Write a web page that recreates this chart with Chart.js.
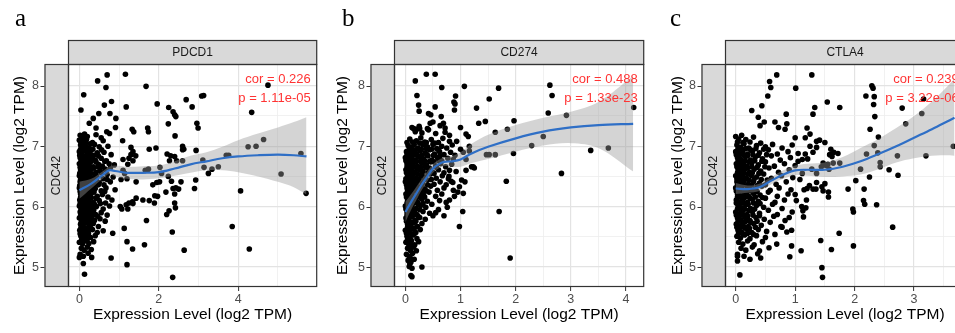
<!DOCTYPE html>
<html>
<head>
<meta charset="utf-8">
<script src="https://cdn.jsdelivr.net/npm/chart.js@4.4.1/dist/chart.umd.min.js"></script>
<style>
  html, body { margin: 0; padding: 0; background: #fff; width: 955px; height: 333px; overflow: hidden; position: relative; }
  canvas { position: absolute; top: 0; }
</style>
</head>
<body>
<canvas id="pdcd1Chart" width="320" height="333" style="left:0px"></canvas>
<canvas id="cd274Chart" width="321" height="333" style="left:326px"></canvas>
<canvas id="ctla4Chart" width="311" height="333" style="left:657px"></canvas>
<script>
// ================================
// DATA
// ================================

const rowGene = 'CDC42';
const panelGenes = ['PDCD1', 'CD274', 'CTLA4'];
const panelLetters = ['a', 'b', 'c'];
const corTexts = ['cor = 0.226', 'cor = 0.488', 'cor = 0.239'];
const pTexts = ['p = 1.11e-05', 'p = 1.33e-23', 'p = 3.22e-06'];
const axisTitle = 'Expression Level (log2 TPM)';

// PDCD1 vs CDC42
const pdcd1Points = [
  [0.70,8.18],[1.16,8.19],[0.46,8.08],[0.67,7.97],[1.68,7.99],[0.11,7.85],[0.63,7.68],[0.81,7.74],[1.18,7.65],[0.04,7.60],
  [0.49,7.54],[0.77,7.54],[1.96,7.70],[2.25,7.64],[2.36,7.57],[2.40,7.52],[2.43,7.49],[2.69,7.77],[2.84,7.65],[3.08,7.83],
  [3.13,7.84],[4.75,8.01],[4.34,7.56],[2.96,7.38],[2.99,7.30],[2.24,7.37],[0.35,7.46],[0.25,7.38],[0.92,7.46],[0.91,7.31],
  [0.42,7.30],[0.69,7.24],[0.76,7.21],[1.33,7.28],[1.37,7.24],[1.72,7.30],[1.74,7.24],[2.41,7.17],[1.09,7.09],[1.30,6.98],
  [1.35,6.91],[1.76,6.95],[2.60,7.00],[2.63,6.95],[2.94,6.93],[1.93,6.97],[2.21,6.87],[2.30,6.84],[2.40,6.83],[2.60,6.94],
  [2.27,6.76],[2.45,6.76],[2.60,6.76],[2.03,6.65],[2.07,6.55],[2.24,6.50],[1.95,6.40],[2.18,6.24],[2.32,6.42],[2.56,6.41],
  [2.36,6.30],[2.43,6.31],[2.50,6.29],[2.40,6.21],[2.40,6.06],[2.42,5.98],[2.20,5.87],[2.26,5.93],[2.34,5.58],[2.64,5.28],
  [2.35,4.83],[2.90,6.30],[2.93,6.44],[3.11,6.77],[3.14,6.65],[3.25,6.55],[3.34,6.62],[3.50,6.66],[3.70,6.85],[3.76,6.85],
  [3.85,5.67],[4.06,6.26],[4.25,6.99],[4.45,7.00],[4.64,7.11],[5.08,6.54],[5.58,6.88],[5.71,6.22],[4.28,5.30],[1.89,6.06],
  [1.97,6.17],[1.10,6.78],[1.25,6.80],[1.35,6.76],[1.10,6.60],[1.14,6.55],[1.22,6.70],[1.66,6.60],[1.74,6.62],[1.05,6.45],
  [1.20,6.46],[1.43,6.14],[1.60,6.11],[1.76,6.10],[1.90,6.18],[1.35,6.05],[1.25,6.06],[1.07,5.96],[1.22,5.96],[1.69,5.77],
  [1.20,5.42],[1.34,5.30],[1.64,5.37],[1.20,5.04],[1.13,5.64],[0.84,5.56],[0.80,5.15],[0.13,4.88],[0.10,5.06],[0.00,5.16],
  [0.31,5.16],[2.02,6.41],[1.85,6.36],[1.43,6.41],[1.30,6.86],[1.42,6.84],[1.03,6.00],[1.18,6.03],[1.34,6.08],
  [0.02,7.18],[0.08,7.15],[0.13,7.20],[0.20,7.16],[0.42,7.19],[0.55,7.14],
  [0.00,7.10],[0.10,7.08],[0.18,7.11],[0.33,7.06],[0.60,7.09],
  [0.03,7.02],[0.07,6.98],[0.15,7.01],[0.25,6.97],[0.38,7.03],[0.50,6.99],[0.72,7.00],
  [0.00,6.91],[0.05,6.88],[0.12,6.93],[0.20,6.87],[0.28,6.92],[0.45,6.89],[0.62,6.90],[0.80,6.86],
  [0.02,6.81],[0.09,6.78],[0.14,6.83],[0.22,6.79],[0.31,6.82],[0.40,6.77],[0.55,6.80],[0.68,6.76],
  [0.00,6.71],[0.06,6.68],[0.11,6.73],[0.17,6.69],[0.26,6.72],[0.35,6.66],[0.48,6.70],[0.58,6.67],[0.75,6.71],[0.88,6.69],
  [0.03,6.61],[0.08,6.58],[0.13,6.63],[0.20,6.59],[0.30,6.62],[0.42,6.57],[0.52,6.60],[0.65,6.62],
  [0.00,6.51],[0.05,6.48],[0.10,6.53],[0.16,6.49],[0.24,6.52],[0.33,6.47],[0.44,6.50],[0.60,6.46],[0.70,6.53],[0.85,6.49],
  [0.02,6.41],[0.07,6.38],[0.12,6.43],[0.19,6.39],[0.27,6.42],[0.37,6.37],[0.50,6.40],[0.62,6.36],[0.78,6.41],
  [0.00,6.31],[0.04,6.28],[0.09,6.33],[0.15,6.29],[0.21,6.32],[0.29,6.27],[0.40,6.30],[0.55,6.26],[0.67,6.31],[0.90,6.28],
  [0.03,6.21],[0.08,6.18],[0.14,6.23],[0.20,6.19],[0.30,6.22],[0.45,6.17],[0.58,6.20],[0.72,6.16],
  [0.01,6.11],[0.06,6.08],[0.11,6.13],[0.18,6.09],[0.25,6.12],[0.35,6.07],[0.50,6.10],[0.66,6.06],[0.82,6.11],
  [0.00,6.01],[0.05,5.98],[0.10,6.03],[0.16,5.99],[0.23,6.02],[0.32,5.97],[0.43,6.00],[0.60,5.96],[0.76,6.01],
  [0.02,5.91],[0.08,5.88],[0.13,5.93],[0.21,5.89],[0.30,5.92],[0.41,5.87],[0.55,5.90],[0.70,5.86],
  [0.00,5.81],[0.06,5.78],[0.12,5.83],[0.19,5.79],[0.28,5.82],[0.38,5.77],[0.52,5.80],[0.65,5.76],
  [0.03,5.71],[0.09,5.68],[0.16,5.73],[0.25,5.69],[0.35,5.72],[0.48,5.67],
  [0.01,5.61],[0.07,5.58],[0.14,5.63],[0.22,5.59],[0.33,5.62],[0.45,5.57],[0.60,5.60],
  [0.04,5.51],[0.10,5.48],[0.18,5.53],[0.28,5.49],[0.40,5.52],
  [0.00,5.41],[0.08,5.38],[0.15,5.43],[0.24,5.39],[0.36,5.42],
  [0.05,5.31],[0.12,5.28],[0.20,5.33],[0.30,5.29],
  [0.02,5.21],[0.10,5.18],[0.22,5.23]
];
// the solid black mass near zero
const pdcd1Core = [
  [0.05,7.05],[0.16,7.06],[0.27,7.04],
  [0.03,6.95],[0.10,6.96],[0.18,6.94],[0.34,6.95],[0.56,6.94],
  [0.01,6.85],[0.07,6.86],[0.17,6.84],[0.26,6.86],[0.36,6.85],[0.48,6.84],
  [0.04,6.75],[0.09,6.76],[0.14,6.74],[0.21,6.76],[0.30,6.75],[0.42,6.74],[0.64,6.75],
  [0.02,6.65],[0.05,6.66],[0.11,6.64],[0.16,6.66],[0.24,6.65],[0.36,6.64],[0.47,6.66],[0.78,6.64],
  [0.01,6.55],[0.07,6.56],[0.12,6.54],[0.19,6.56],[0.28,6.55],[0.38,6.54],[0.55,6.56],
  [0.03,6.45],[0.09,6.46],[0.14,6.44],[0.22,6.46],[0.31,6.45],[0.43,6.44],[0.70,6.45],
  [0.01,6.35],[0.06,6.36],[0.12,6.34],[0.18,6.36],[0.25,6.35],[0.34,6.34],[0.48,6.36],
  [0.02,6.25],[0.06,6.26],[0.11,6.24],[0.17,6.26],[0.25,6.25],[0.37,6.24],[0.64,6.25],
  [0.03,6.15],[0.09,6.16],[0.15,6.14],[0.22,6.16],[0.30,6.15],[0.42,6.14],
  [0.02,6.05],[0.08,6.06],[0.13,6.04],[0.20,6.06],[0.28,6.05],[0.38,6.04],[0.53,6.05],
  [0.04,5.95],[0.11,5.96],[0.17,5.94],[0.26,5.95],[0.36,5.94],
  [0.03,5.85],[0.09,5.86],[0.15,5.84],[0.23,5.86],[0.33,5.85],[0.46,5.84],
  [0.05,5.75],[0.12,5.76],[0.20,5.74],[0.30,5.75],
  [0.04,5.65],[0.10,5.66],[0.18,5.64],[0.28,5.65],
  [0.02,5.55],[0.13,5.56],[0.23,5.55],
  [0.06,5.45],[0.20,5.46]
];
const pdcd1FitX = [0, 0.3, 0.6, 0.75, 0.9, 1.2, 1.6, 2.0, 2.4, 2.8, 3.2, 3.6, 4.0, 4.5, 5.0, 5.4, 5.72];
const pdcd1Fit  = [6.27, 6.38, 6.53, 6.60, 6.59, 6.56, 6.56, 6.57, 6.63, 6.70, 6.75, 6.80, 6.83, 6.85, 6.86, 6.85, 6.83];
const pdcd1Lo   = [6.13, 6.30, 6.47, 6.54, 6.50, 6.46, 6.45, 6.47, 6.51, 6.56, 6.60, 6.60, 6.57, 6.50, 6.41, 6.32, 6.20];
const pdcd1Hi   = [6.41, 6.46, 6.59, 6.66, 6.68, 6.66, 6.67, 6.68, 6.75, 6.84, 6.90, 6.99, 7.10, 7.21, 7.31, 7.40, 7.48];

// CD274 vs CDC42
const cd274Points = [
  [0.38,8.19],[0.54,8.19],[0.18,8.08],[0.66,7.97],[1.07,7.99],[1.69,7.96],[0.21,7.84],[0.91,7.83],[0.88,7.73],[0.90,7.70],
  [1.52,7.78],[2.62,8.01],[2.66,7.84],[4.14,7.64],[0.24,7.68],[0.25,7.58],[0.54,7.65],[0.42,7.54],[0.46,7.52],[1.29,7.63],
  [0.65,7.49],[0.69,7.38],[0.72,7.30],[1.33,7.38],[1.45,7.41],[1.97,7.42],[2.59,7.55],[2.92,7.51],[1.00,7.31],[1.14,7.16],
  [1.63,7.23],[1.85,7.28],[2.50,7.16],[2.29,7.01],[1.16,7.00],[1.52,6.86],[1.63,6.86],[1.96,6.88],[3.36,6.93],[3.68,6.97],
  [2.83,6.55],[1.83,6.42],[1.70,5.92],[1.04,5.92],[0.98,5.67],[1.90,5.15],[0.30,5.00],[1.10,6.78],[1.23,6.66],[1.10,6.60],
  [1.20,6.66],[1.25,6.64],[1.05,6.22],[1.08,6.41],[1.02,6.44],[0.95,6.24],[0.87,6.27],[0.83,6.42],[0.79,6.50],[0.76,5.99],
  [0.70,5.85],[0.50,5.85],[0.55,5.90],[0.60,5.95],[0.10,4.86],[0.12,4.84],[0.08,5.05],[0.09,5.15],[1.05,6.90],[1.16,6.92],
  [1.47,6.86],[1.10,7.20],[0.50,7.40],[0.45,7.38],[0.15,7.29],[0.20,7.28],[0.26,7.29],[0.40,7.29],[0.89,7.60],[0.80,7.18],
  [0.93,7.08],[1.00,6.95],[0.98,6.33],[0.89,6.17],[0.80,6.11],
  [0.12,7.31],[0.18,7.24],[0.25,7.33],[0.30,7.22],[0.42,7.27],[0.55,7.21],[0.63,7.34],[0.72,7.23],
  [0.08,7.12],[0.20,7.09],[0.28,7.14],[0.35,7.07],[0.47,7.11],[0.60,7.06],[0.68,7.13],[0.80,7.08],
  [0.05,7.01],[0.10,6.98],[0.16,7.03],[0.23,6.97],[0.32,7.02],[0.40,6.99],[0.50,7.03],[0.57,6.96],[0.66,7.00],[0.75,6.97],[0.85,7.02],
  [0.02,6.91],[0.09,6.88],[0.14,6.93],[0.20,6.87],[0.27,6.92],[0.36,6.89],[0.44,6.94],[0.53,6.87],[0.62,6.91],[0.70,6.86],[0.82,6.90],[0.90,6.85],
  [0.00,6.81],[0.06,6.78],[0.12,6.83],[0.18,6.77],[0.25,6.82],[0.33,6.79],[0.41,6.84],[0.48,6.77],[0.58,6.81],[0.66,6.76],[0.77,6.80],[0.87,6.78],
  [0.03,6.71],[0.08,6.68],[0.15,6.73],[0.22,6.67],[0.30,6.72],[0.38,6.69],[0.46,6.74],[0.55,6.67],[0.64,6.71],[0.73,6.66],[0.84,6.70],
  [0.01,6.61],[0.06,6.58],[0.11,6.63],[0.17,6.57],[0.24,6.62],[0.32,6.59],[0.40,6.64],[0.50,6.57],[0.60,6.61],[0.70,6.56],[0.80,6.60],[0.92,6.58],
  [0.04,6.51],[0.09,6.48],[0.14,6.53],[0.20,6.47],[0.28,6.52],[0.36,6.49],[0.45,6.54],[0.56,6.47],[0.67,6.51],[0.78,6.46],
  [0.00,6.41],[0.05,6.38],[0.10,6.43],[0.16,6.37],[0.23,6.42],[0.31,6.39],[0.40,6.44],[0.52,6.37],[0.63,6.41],[0.74,6.36],[0.86,6.40],
  [0.03,6.31],[0.08,6.28],[0.13,6.33],[0.19,6.27],[0.27,6.32],[0.35,6.29],[0.46,6.34],[0.58,6.27],[0.70,6.31],
  [0.01,6.21],[0.06,6.18],[0.11,6.23],[0.17,6.17],[0.24,6.22],[0.33,6.19],[0.43,6.24],[0.55,6.17],[0.66,6.21],
  [0.04,6.11],[0.09,6.08],[0.15,6.13],[0.22,6.07],[0.30,6.12],[0.40,6.09],[0.62,6.10],[0.74,6.07],
  [0.00,6.01],[0.06,5.98],[0.12,6.03],[0.19,5.97],[0.28,6.02],[0.37,5.99],[0.48,6.04],
  [0.03,5.91],[0.08,5.88],[0.14,5.93],[0.21,5.87],[0.32,5.92],[0.44,5.89],
  [0.01,5.81],[0.06,5.78],[0.12,5.83],[0.18,5.77],[0.26,5.82],[0.36,5.79],
  [0.04,5.71],[0.09,5.68],[0.15,5.73],[0.22,5.67],[0.30,5.72],
  [0.00,5.61],[0.06,5.58],[0.12,5.63],[0.19,5.57],[0.27,5.62],
  [0.03,5.51],[0.08,5.48],[0.14,5.53],[0.21,5.47],
  [0.01,5.41],[0.06,5.38],[0.11,5.43],[0.17,5.37],[0.24,5.42],
  [0.04,5.31],[0.09,5.28],[0.15,5.33],[0.20,5.27],
  [0.02,5.21],[0.07,5.18],[0.13,5.23],
  [0.05,5.11],[0.10,5.08],[0.16,5.13],
  [0.07,5.01],[0.12,4.98]
];
const cd274Core = [
  [0.03,7.06],[0.13,7.07],[0.26,7.05],[0.38,7.06],[0.53,7.05],
  [0.07,6.95],[0.12,6.96],[0.19,6.94],[0.29,6.95],[0.38,6.96],[0.48,6.95],[0.60,6.94],
  [0.03,6.86],[0.09,6.85],[0.15,6.86],[0.22,6.84],[0.30,6.85],[0.39,6.86],[0.51,6.85],[0.63,6.84],
  [0.01,6.76],[0.05,6.75],[0.11,6.76],[0.19,6.74],[0.27,6.75],[0.35,6.76],[0.44,6.75],[0.52,6.74],[0.61,6.76],
  [0.03,6.66],[0.09,6.65],[0.14,6.66],[0.20,6.64],[0.28,6.65],[0.36,6.66],[0.44,6.64],[0.56,6.65],
  [0.02,6.56],[0.07,6.55],[0.12,6.56],[0.22,6.54],[0.30,6.55],[0.41,6.56],[0.52,6.55],
  [0.01,6.46],[0.06,6.45],[0.12,6.46],[0.18,6.44],[0.25,6.45],[0.34,6.46],[0.47,6.45],
  [0.02,6.36],[0.07,6.35],[0.13,6.36],[0.21,6.34],[0.30,6.35],[0.40,6.36],
  [0.04,6.26],[0.09,6.25],[0.15,6.26],[0.21,6.24],[0.29,6.25],[0.38,6.26],
  [0.02,6.16],[0.07,6.15],[0.13,6.16],[0.19,6.14],[0.27,6.15],[0.35,6.16],
  [0.03,6.06],[0.08,6.05],[0.15,6.06],[0.23,6.04],[0.32,6.05],
  [0.01,5.96],[0.05,5.95],[0.11,5.96],[0.17,5.94],[0.26,5.95],
  [0.03,5.86],[0.09,5.85],[0.15,5.86],[0.23,5.84],
  [0.02,5.76],[0.07,5.75],[0.13,5.74],[0.19,5.76],
  [0.04,5.66],[0.10,5.65],[0.16,5.64],
  [0.02,5.56],[0.11,5.55],[0.17,5.56],
  [0.04,5.46],[0.10,5.45],
  [0.07,5.35],[0.12,5.36]
];
const cd274FitX = [0, 0.1, 0.2, 0.3, 0.4, 0.5, 0.6, 0.7, 0.85, 1.0, 1.2, 1.5, 2.0, 2.5, 3.0, 3.5, 4.13];
const cd274Fit  = [5.91, 6.07, 6.22, 6.37, 6.50, 6.63, 6.70, 6.74, 6.75, 6.78, 6.88, 6.99, 7.13, 7.24, 7.31, 7.35, 7.37];
const cd274Lo   = [5.74, 5.94, 6.11, 6.28, 6.42, 6.56, 6.63, 6.67, 6.66, 6.66, 6.72, 6.79, 6.91, 7.01, 7.05, 6.97, 6.58];
const cd274Hi   = [6.08, 6.20, 6.33, 6.46, 6.58, 6.70, 6.77, 6.81, 6.84, 6.90, 7.04, 7.19, 7.35, 7.47, 7.57, 7.73, 8.16];

// CTLA4 vs CDC42
const ctla4Points = [
  [0.69,8.18],[1.28,8.18],[0.57,8.07],[0.59,7.97],[1.01,7.96],[0.54,7.83],[0.44,7.67],[0.27,7.59],[0.85,7.53],[1.33,7.64],
  [1.30,7.53],[0.38,7.48],[0.48,7.40],[0.41,7.34],[0.66,7.40],[0.72,7.31],[0.86,7.37],[0.83,7.28],[1.20,7.30],[1.25,7.20],
  [1.17,7.14],[1.00,7.14],[1.36,6.98],[1.30,6.90],[1.41,7.10],[1.17,6.87],[1.21,6.79],[1.47,6.26],[1.50,6.38],[1.45,6.33],
  [1.36,6.40],[1.30,6.29],[1.43,5.44],[1.45,4.99],[1.46,4.83],[1.10,5.27],[0.94,5.35],[0.91,5.17],[0.69,5.38],[0.07,4.87],
  [0.03,5.10],[0.03,5.18],[1.00,6.20],[1.02,6.10],[1.18,5.98],[1.13,5.93],[0.83,5.77],[0.90,5.82],[0.78,5.66],[0.86,5.58],
  [2.29,8.00],[2.31,7.96],[2.19,7.83],[2.33,7.82],[2.32,7.69],[2.34,7.49],[1.54,7.73],[1.75,7.64],[2.26,7.28],[2.40,7.15],
  [2.80,7.63],[2.86,7.37],[3.13,7.54],[3.16,7.78],[3.66,7.00],[3.20,6.84],[2.72,6.84],[2.33,7.01],[2.20,6.87],[2.39,6.89],
  [2.43,6.73],[2.43,6.66],[2.58,6.61],[2.73,6.52],[2.10,6.62],[2.25,6.49],[2.02,6.43],[1.89,6.29],[2.16,6.29],[2.15,6.10],
  [2.17,6.04],[2.37,6.03],[1.97,5.96],[1.98,5.91],[2.64,5.66],[1.74,5.56],[1.98,5.35],[1.61,5.29],[1.56,6.24],[1.56,6.16],
  [1.50,7.06],[1.60,6.95],[1.65,6.90],[1.58,6.86],[1.62,6.83],[1.72,6.88],[1.75,6.72],[1.47,6.72],[1.55,6.70],[1.52,6.68],
  [1.64,6.72],[1.57,6.62],[1.44,6.66],[1.36,6.55],[1.35,6.29],[1.20,6.30],[1.24,6.35],[1.15,6.28],[1.19,6.11],[1.11,6.00],
  [1.14,5.83],[0.94,5.61],[1.25,7.00],[1.36,7.08],[1.05,6.75],[1.12,6.55],[1.28,6.62],[1.08,6.45],
  [0.00,7.16],[0.05,7.12],[0.10,7.18],[0.17,7.11],[0.30,7.15],
  [0.02,7.02],[0.08,6.98],[0.14,7.04],[0.22,6.97],[0.35,7.01],[0.50,6.99],[0.62,7.03],[0.78,6.97],[0.95,7.02],
  [0.00,6.91],[0.06,6.88],[0.12,6.93],[0.20,6.87],[0.28,6.92],[0.40,6.89],[0.55,6.94],[0.70,6.87],[0.88,6.91],[1.05,6.88],
  [0.03,6.81],[0.09,6.78],[0.16,6.83],[0.25,6.77],[0.33,6.82],[0.45,6.79],[0.60,6.84],[0.75,6.77],[0.92,6.81],[1.12,6.78],
  [0.01,6.71],[0.07,6.68],[0.13,6.73],[0.19,6.67],[0.27,6.72],[0.38,6.69],[0.50,6.74],[0.65,6.67],[0.82,6.71],[1.00,6.68],
  [0.04,6.61],[0.10,6.58],[0.16,6.63],[0.23,6.57],[0.31,6.62],[0.42,6.59],[0.56,6.64],[0.72,6.57],[0.90,6.61],
  [0.00,6.51],[0.06,6.48],[0.12,6.53],[0.18,6.47],[0.26,6.52],[0.35,6.49],[0.47,6.54],[0.60,6.47],[0.77,6.51],[0.96,6.48],
  [0.02,6.41],[0.08,6.38],[0.14,6.43],[0.21,6.37],[0.30,6.42],[0.40,6.39],[0.53,6.44],[0.68,6.37],[0.85,6.41],
  [0.00,6.31],[0.05,6.28],[0.10,6.33],[0.16,6.27],[0.23,6.32],[0.32,6.29],[0.44,6.34],[0.58,6.27],[0.73,6.31],[0.93,6.28],
  [0.03,6.21],[0.09,6.18],[0.15,6.23],[0.22,6.17],[0.30,6.22],[0.41,6.19],[0.55,6.24],[0.70,6.17],[0.88,6.21],
  [0.01,6.11],[0.07,6.08],[0.13,6.13],[0.20,6.07],[0.28,6.12],[0.38,6.09],[0.50,6.14],[0.66,6.07],[0.82,6.11],
  [0.04,6.01],[0.10,5.98],[0.17,6.03],[0.25,5.97],[0.35,6.02],[0.47,5.99],[0.62,6.04],[0.78,5.97],
  [0.00,5.91],[0.06,5.88],[0.12,5.93],[0.19,5.87],[0.28,5.92],[0.40,5.89],[0.55,5.94],[0.70,5.87],[0.95,5.91],
  [0.03,5.81],[0.09,5.78],[0.16,5.83],[0.24,5.77],[0.34,5.82],[0.48,5.79],[0.64,5.84],
  [0.01,5.71],[0.07,5.68],[0.13,5.73],[0.21,5.67],[0.30,5.72],[0.43,5.69],[0.58,5.74],[0.76,5.67],
  [0.04,5.61],[0.10,5.58],[0.18,5.63],[0.27,5.57],[0.38,5.62],[0.52,5.59],
  [0.02,5.51],[0.08,5.48],[0.15,5.53],[0.24,5.47],[0.35,5.52],[0.50,5.49],[0.66,5.54],
  [0.05,5.41],[0.12,5.38],[0.20,5.43],[0.31,5.37],[0.45,5.42],
  [0.09,5.31],[0.17,5.28],[0.28,5.33],[0.40,5.27],[0.56,5.32],
  [0.03,5.21],[0.14,5.18],[0.37,5.22],
  [0.24,5.13],[0.42,5.15]
];
const ctla4Core = [
  [0.03,7.07],[0.12,7.06],[0.24,7.07],[0.42,7.05],
  [0.04,6.96],[0.10,6.95],[0.17,6.96],[0.25,6.94],[0.34,6.96],[0.47,6.95],
  [0.01,6.86],[0.06,6.85],[0.13,6.86],[0.20,6.84],[0.29,6.86],[0.38,6.85],[0.52,6.86],
  [0.04,6.76],[0.10,6.75],[0.16,6.76],[0.23,6.74],[0.32,6.76],[0.44,6.75],
  [0.02,6.66],[0.07,6.65],[0.13,6.66],[0.20,6.64],[0.27,6.66],[0.36,6.65],[0.49,6.66],
  [0.03,6.56],[0.08,6.55],[0.14,6.56],[0.20,6.54],[0.28,6.56],[0.39,6.55],
  [0.02,6.46],[0.09,6.45],[0.15,6.46],[0.22,6.44],[0.31,6.46],[0.43,6.45],
  [0.03,6.36],[0.07,6.35],[0.13,6.36],[0.19,6.34],[0.27,6.36],[0.36,6.35],[0.50,6.36],
  [0.01,6.26],[0.06,6.25],[0.12,6.26],[0.19,6.24],[0.26,6.26],[0.36,6.25],
  [0.03,6.16],[0.10,6.15],[0.16,6.16],[0.24,6.14],[0.33,6.16],[0.45,6.15],
  [0.01,6.06],[0.07,6.05],[0.13,6.06],[0.21,6.04],[0.30,6.06],[0.41,6.05],
  [0.03,5.96],[0.09,5.95],[0.15,5.96],[0.22,5.94],[0.32,5.96],
  [0.01,5.86],[0.06,5.85],[0.12,5.86],[0.20,5.84],[0.29,5.86],[0.40,5.85],
  [0.04,5.76],[0.10,5.75],[0.17,5.76],[0.25,5.74],[0.36,5.76],
  [0.02,5.66],[0.07,5.65],[0.14,5.66],[0.23,5.64],[0.33,5.66],
  [0.05,5.56],[0.12,5.55],[0.20,5.56],[0.30,5.54]
];
const ctla4FitX = [0, 0.2, 0.4, 0.6, 0.8, 1.0, 1.2, 1.5, 1.8, 2.1, 2.4, 2.7, 3.0, 3.3, 3.6, 3.68];
const ctla4Fit  = [6.30, 6.29, 6.32, 6.43, 6.53, 6.60, 6.61, 6.61, 6.66, 6.75, 6.87, 7.00, 7.14, 7.28, 7.43, 7.47];
const ctla4Lo   = [6.21, 6.23, 6.26, 6.37, 6.46, 6.52, 6.51, 6.49, 6.50, 6.53, 6.62, 6.73, 6.80, 6.84, 6.85, 6.84];
const ctla4Hi   = [6.39, 6.35, 6.38, 6.49, 6.60, 6.68, 6.71, 6.73, 6.82, 6.97, 7.12, 7.30, 7.50, 7.74, 8.03, 8.12];

// ================================
// STYLE
// ================================

const FONT = '"Liberation Sans", Arial, Helvetica, sans-serif';
Chart.defaults.font.family = FONT;
Chart.defaults.animation = false;

const isOn = (v, step) => Math.abs(v / step - Math.round(v / step)) < 1e-6;
const xy = (xs, ys) => xs.map((x, i) => ({ x: x, y: ys[i] }));

// strips, border, y tick marks, annotation text
const panelDecor = {
    id: 'panelDecor',
    afterDraw(chart, args, opts) {
        const { ctx, chartArea: a } = chart;
        const yScale = chart.scales.y;
        ctx.save();

        // top strip
        ctx.fillStyle = '#d9d9d9';
        ctx.fillRect(a.left, 40, a.right - a.left, a.top - 40);
        // left strip
        ctx.fillRect(a.left - 23.5, a.top, 23.5, a.bottom - a.top);

        ctx.strokeStyle = '#333333';
        ctx.lineWidth = 1.2;
        ctx.strokeRect(a.left + 0.5, 40.5, a.right - a.left - 1, a.top - 40);
        ctx.strokeRect(a.left - 23, a.top + 0.5, 23.5, a.bottom - a.top - 1);
        ctx.strokeRect(a.left + 0.5, a.top + 0.5, a.right - a.left - 1, a.bottom - a.top - 1);

        // y tick marks (left of the strip)
        ctx.lineWidth = 1;
        [5, 6, 7, 8].forEach(v => {
            const y = Math.round(yScale.getPixelForValue(v)) + 0.5;
            ctx.beginPath();
            ctx.moveTo(a.left - 27.5, y);
            ctx.lineTo(a.left - 23.5, y);
            ctx.stroke();
        });

        // strip labels
        ctx.fillStyle = '#1a1a1a';
        ctx.font = '12px ' + FONT;
        ctx.textAlign = 'center';
        ctx.textBaseline = 'middle';
        ctx.fillText(opts.gene, (a.left + a.right) / 2, 52.5);
        ctx.save();
        ctx.translate(a.left - 11.5, (a.top + a.bottom) / 2);
        ctx.rotate(-Math.PI / 2);
        ctx.fillText(rowGene, 0, 0);
        ctx.restore();

        // correlation text
        ctx.fillStyle = '#ff3333';
        ctx.font = '13px ' + FONT;
        ctx.textAlign = 'right';
        ctx.fillText(opts.cor, a.right - 6.5, 79);
        ctx.fillText(opts.p, a.right - 6.5, 98.5);

        // panel letter
        ctx.fillStyle = '#000';
        ctx.font = '25px "Liberation Serif", "Times New Roman", serif';
        ctx.textAlign = 'left';
        ctx.textBaseline = 'alphabetic';
        ctx.fillText(opts.letter, opts.letterX, 26);

        ctx.restore();
    }
};

function gridColor(step) {
    return (c) => isOn(c.tick.value, step) ? '#e3e3e3' : '#eeeeee';
}
function gridWidth(step) {
    return (c) => isOn(c.tick.value, step) ? 1.2 : 0.8;
}

function makePanel(id, i, points, fitX, fit, lo, hi, xr) {
    const ctx = document.getElementById(id);
    return new Chart(ctx, {
        type: 'line',
        data: {
            datasets: [
                {
                    label: 'fit',
                    data: xy(fitX, fit),
                    borderColor: '#2f6fc6',
                    borderWidth: 2.2,
                    pointRadius: 0,
                    tension: 0.35,
                    fill: false,
                    order: 0
                },
                {
                    label: 'lower',
                    data: xy(fitX, lo),
                    borderWidth: 0,
                    borderColor: 'rgba(0,0,0,0)',
                    pointRadius: 0,
                    tension: 0.35,
                    fill: false,
                    order: 1
                },
                {
                    label: 'upper',
                    data: xy(fitX, hi),
                    borderWidth: 0,
                    borderColor: 'rgba(0,0,0,0)',
                    backgroundColor: 'rgba(153,153,153,0.42)',
                    pointRadius: 0,
                    tension: 0.35,
                    fill: '-1',
                    order: 1
                },
                {
                    label: 'samples',
                    data: points.map(p => ({ x: p[0], y: p[1] })),
                    showLine: false,
                    pointRadius: 2.8,
                    pointHoverRadius: 2.8,
                    pointBorderWidth: 0,
                    pointBackgroundColor: '#000',
                    order: 2
                }
            ]
        },
        options: {
            responsive: false,
            devicePixelRatio: 1,
            events: [],
            layout: { padding: { top: 64, right: 2, left: 0, bottom: 0 } },
            plugins: {
                legend: { display: false },
                tooltip: { enabled: false },
                panelDecor: {
                    gene: panelGenes[i],
                    cor: corTexts[i],
                    p: pTexts[i],
                    letter: panelLetters[i],
                    letterX: xr.letterX
                }
            },
            scales: {
                x: {
                    type: 'linear',
                    min: xr.min,
                    max: xr.max,
                    border: { display: false },
                    grid: {
                        color: gridColor(xr.major),
                        lineWidth: gridWidth(xr.major),
                        drawTicks: true,
                        tickLength: 4,
                        tickWidth: 1,
                        tickColor: (c) => isOn(c.tick.value, xr.major) ? '#333333' : 'rgba(0,0,0,0)'
                    },
                    ticks: {
                        stepSize: xr.minor,
                        includeBounds: false,
                        autoSkip: false,
                        maxRotation: 0,
                        minRotation: 0,
                        padding: 1,
                        color: '#4d4d4d',
                        font: { size: 12.5 },
                        callback: (v) => isOn(v, xr.major) ? String(Math.round(v)) : ''
                    },
                    title: {
                        display: true,
                        text: axisTitle,
                        color: '#000',
                        font: { size: 15.5 },
                        padding: { top: 0, bottom: 9 }
                    },
                    afterFit: (s) => { s.height = 46; }
                },
                y: {
                    min: 4.67,
                    max: 8.36,
                    border: { display: false },
                    grid: {
                        color: gridColor(1),
                        lineWidth: gridWidth(1),
                        drawTicks: false
                    },
                    ticks: {
                        stepSize: 0.5,
                        includeBounds: false,
                        autoSkip: false,
                        padding: 29,
                        color: '#4d4d4d',
                        font: { size: 12.5 },
                        callback: (v) => isOn(v, 1) ? String(Math.round(v)) : ''
                    },
                    title: {
                        display: true,
                        text: axisTitle,
                        color: '#000',
                        font: { size: 15.5 },
                        padding: { top: xr.titlePad, bottom: 0 }
                    },
                    afterFit: (s) => { s.width = 68; }
                }
            }
        },
        plugins: [panelDecor]
    });
}

makePanel('pdcd1Chart', 0, pdcd1Points.concat(pdcd1Core), pdcd1FitX, pdcd1Fit, pdcd1Lo, pdcd1Hi,
    { min: -0.286, max: 5.99, major: 2, minor: 1, titlePad: 10, letterX: 15 });
makePanel('cd274Chart', 1, cd274Points.concat(cd274Core), cd274FitX, cd274Fit, cd274Lo, cd274Hi,
    { min: -0.206, max: 4.33, major: 1, minor: 0.5, titlePad: 7.5, letterX: 16 });
makePanel('ctla4Chart', 2, ctla4Points.concat(ctla4Core), ctla4FitX, ctla4Fit, ctla4Lo, ctla4Hi,
    { min: -0.18, max: 3.86, major: 1, minor: 0.5, titlePad: 11, letterX: 13 });
</script>
</body>
</html>
